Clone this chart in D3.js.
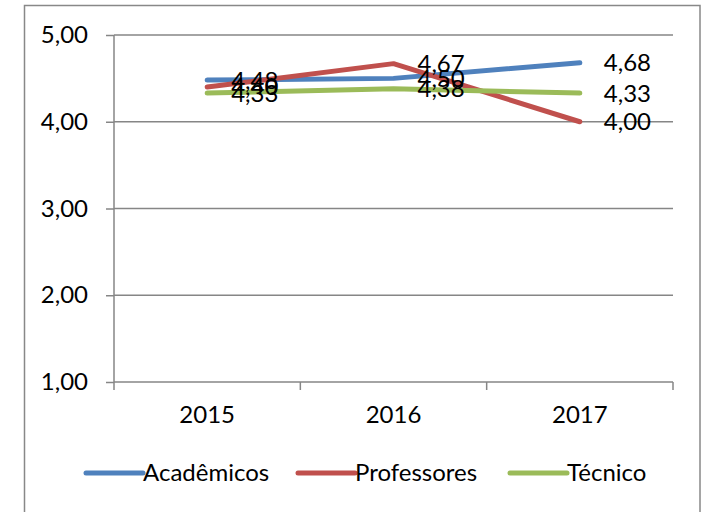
<!DOCTYPE html>
<html lang="pt">
<head>
<meta charset="UTF-8">
<title>Gráfico</title>
<script src="https://cdn.jsdelivr.net/npm/d3@7"></script>
<style>
  body { margin: 0; background: #fff; }
  svg text { font-family: Lato, "Open Sans", sans-serif; fill: #000; }
  .axis path, .axis line { stroke: #868686; stroke-width: 1.5; }
</style>
</head>
<body>
<script>
// dados
let anos = ["2015", "2016", "2017"]
let academicos = [4.48, 4.50, 4.68]
let professores = [4.40, 4.67, 4.00]
let tecnico = [4.33, 4.38, 4.33]
let yTicks = [1, 2, 3, 4, 5]

let series = [
  { nome: "Acadêmicos", valores: academicos, cor: "#4F81BD" },
  { nome: "Professores", valores: professores, cor: "#C0504D" },
  { nome: "Técnico", valores: tecnico, cor: "#9BBB59" }
]

let w = 702, h = 512
let plotL = 114, plotR = 673, plotT = 35, plotB = 382
let fs = "24px"
let fmt = d => d3.format(".2f")(d).replace(".", ",")

let svg = d3.select("body").append("svg")
  .attr("width", w).attr("height", h)

// borda do gráfico
svg.append("rect")
  .attr("x", 24.5).attr("y", 5.5)
  .attr("width", 675.5).attr("height", 520)
  .attr("fill", "#fff").attr("stroke", "#888").attr("stroke-width", 1.5)

let x = d3.scaleBand().domain(anos).range([plotL, plotR])
let y = d3.scaleLinear().domain([1, 5]).range([plotB, plotT])

// linhas de grade
svg.append("g").selectAll("line")
  .data(yTicks.slice(1))
  .enter().append("line")
  .attr("x1", plotL).attr("x2", plotR)
  .attr("y1", d => y(d)).attr("y2", d => y(d))
  .attr("stroke", "#868686").attr("stroke-width", 1.5)

// eixo y
let yAxis = d3.axisLeft(y).tickValues(yTicks).tickFormat(fmt).tickSize(8).tickPadding(18)
let gy = svg.append("g").attr("class", "axis")
  .attr("transform", "translate(" + plotL + ",0)")
  .call(yAxis)
gy.select(".domain").attr("d", "M0," + plotB + "V" + plotT)
gy.selectAll("text").attr("font-size", fs)

// eixo x
let xAxis = d3.axisBottom(x).tickSize(0).tickPadding(24)
let gx = svg.append("g").attr("class", "axis")
  .attr("transform", "translate(0," + plotB + ")")
  .call(xAxis)
gx.select(".domain").attr("d", "M" + plotL + ",0H" + plotR)
gx.selectAll("text").attr("font-size", fs)
gx.selectAll(".sep")
  .data(anos.map(a => x(a)).concat([plotR]))
  .enter().append("line")
  .attr("class", "sep")
  .attr("x1", d => d).attr("x2", d => d)
  .attr("y1", 0).attr("y2", 8)

let cx = a => x(a) + x.bandwidth() / 2

let line = d3.line()
  .x((d, i) => cx(anos[i]))
  .y(d => y(d))

svg.selectAll(".serie")
  .data(series)
  .enter().append("path")
  .attr("class", "serie")
  .attr("d", d => line(d.valores))
  .attr("fill", "none")
  .attr("stroke", d => d.cor)
  .attr("stroke-width", 5)
  .attr("stroke-linecap", "round")
  .attr("stroke-linejoin", "round")

// rótulos de dados
series.forEach(s => {
  svg.append("g").selectAll("text")
    .data(s.valores)
    .enter().append("text")
    .attr("x", (d, i) => cx(anos[i]) + 24)
    .attr("y", d => y(d))
    .attr("dy", "0.35em")
    .attr("font-size", fs)
    .text(d => fmt(d))
})

// legenda
let legX = [86, 298, 510]
let legY = 473
let leg = svg.append("g").selectAll("g")
  .data(series)
  .enter().append("g")
  .attr("transform", (d, i) => "translate(" + legX[i] + "," + legY + ")")
leg.append("line")
  .attr("x1", 0).attr("x2", 57)
  .attr("stroke", d => d.cor).attr("stroke-width", 5)
  .attr("stroke-linecap", "round")
leg.append("text")
  .attr("x", 57).attr("dy", "0.35em")
  .attr("font-size", fs)
  .text(d => d.nome)
</script>
</body>
</html>
